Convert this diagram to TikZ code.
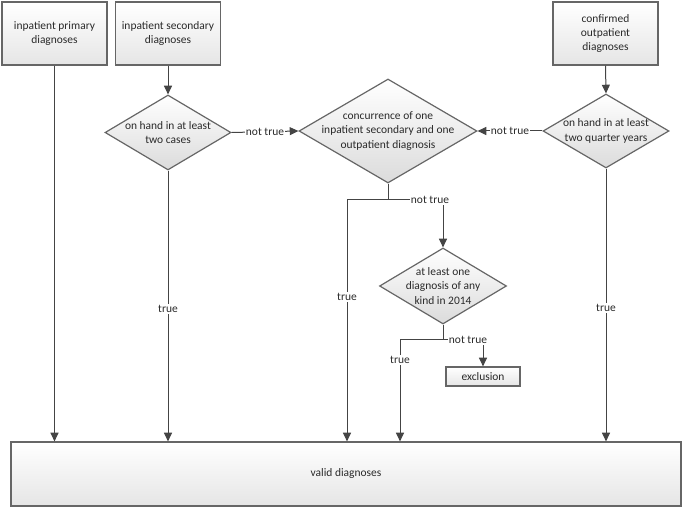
\documentclass[tikz,border=0pt]{standalone}
\usepackage{fontspec}
\setmainfont{Carlito}
\usetikzlibrary{shapes.geometric,arrows.meta}
\definecolor{edge}{HTML}{666666}
\definecolor{conn}{HTML}{444444}
\definecolor{txt}{HTML}{2a2a2a}
\tikzset{
  base/.style={draw=edge, line width=0.9pt, top color=white, bottom color=black!10,
    font=\fontsize{8.6}{10.8}\selectfont, text=txt, align=center, inner sep=0pt},
  srcbox/.style={base, rectangle, minimum width=105*0.75pt, minimum height=63*0.75pt},
  decision/.style={base, diamond, bottom color=black!14, inner xsep=-4pt, inner ysep=-3pt},
  lab/.style={fill=white, inner sep=1pt, text=txt, font=\fontsize{8.6}{10}\selectfont},
  conn/.style={draw=conn, line width=0.75pt},
  arr/.style={conn, -{Triangle[length=6.5pt,width=6pt]}},
}
\begin{document}
\begin{tikzpicture}[x=0.75pt,y=-0.75pt]
\useasboundingbox (0,0) rectangle (685,509);
% source boxes
\node[srcbox] (b1) at (54.5,33.5) {inpatient primary\\diagnoses};
\node[srcbox] (b2) at (168,33.5) {inpatient secondary\\diagnoses};
\node[srcbox] (b3) at (605.5,33.5) {confirmed\\outpatient\\diagnoses};
% decisions
\node[decision, minimum width=126*0.75pt, minimum height=75*0.75pt, aspect=1.68] (d1) at (168,132.5) {on hand in at least\\two cases};
\node[decision, minimum width=178*0.75pt, minimum height=104*0.75pt, aspect=1.71] (d2) at (388,131) {concurrence of one\\inpatient secondary and one\\outpatient diagnosis};
\node[decision, minimum width=126*0.75pt, minimum height=74*0.75pt, aspect=1.7] (d3) at (606,131) {on hand in at least\\two quarter years};
\node[decision, minimum width=127*0.75pt, minimum height=76*0.75pt, aspect=1.67] (d4) at (443,286) {at least one\\diagnosis of any\\kind in 2014};
% end boxes
\node[base, rectangle, minimum width=74*0.75pt, minimum height=19*0.75pt] (ex) at (483,376.5) {exclusion};
\node[base, rectangle, minimum width=670*0.75pt, minimum height=64*0.75pt] (valid) at (346,474) {valid diagnoses};
% helper coordinates
\coordinate (c2) at (388,200);
\coordinate (c2l) at (347,200);
\coordinate (c2r) at (443,200);
\coordinate (c4) at (443,340);
\coordinate (c4l) at (400,340);
\coordinate (c4r) at (483,340);
% connectors
\draw[arr] (b1.south) -- (b1.south |- valid.north);
\draw[arr] (b2.south) -- (d1.north);
\draw[arr] (b3.south) -- (d3.north);
\draw[arr] (d1.south) -- node[lab, pos=0.51] {true} (d1.south |- valid.north);
\draw[arr] (d3.south) -- node[lab, pos=0.51] {true} (d3.south |- valid.north);
\draw[arr] (d1.east) -- node[lab] {not true} (d2.west);
\draw[arr] (d3.west) -- node[lab] {not true} (d2.east);
\draw[conn] (d2.south) -- (c2);
\draw[arr] (c2) -- (c2l) -- node[lab, pos=0.4] {true} (c2l |- valid.north);
\draw[arr] (c2) -- (c2r) -- (d4.north);
\node[lab] (nt2) at (430,200) {not true};
\draw[conn] (d4.south) -- (c4);
\draw[arr] (c4) -- (c4l) -- node[lab, pos=0.2] {true} (c4l |- valid.north);
\draw[arr] (c4) -- (c4r) -- (ex.north);
\node[lab] (nt4) at (468,340) {not true};
\end{tikzpicture}
\end{document}
